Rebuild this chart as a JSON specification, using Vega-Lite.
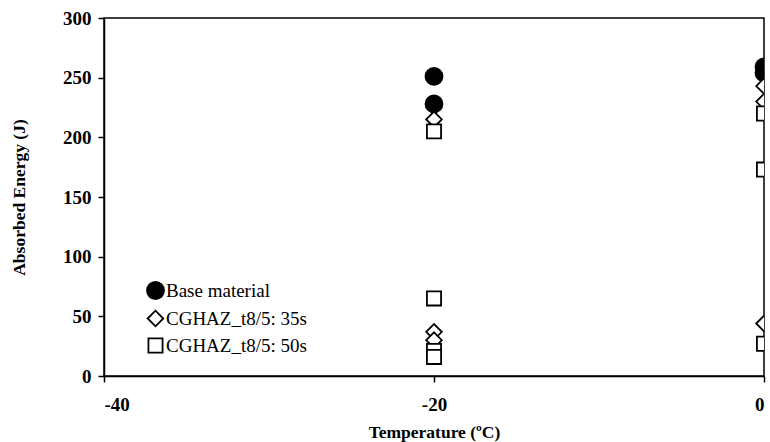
{
  "$schema": "https://vega.github.io/schema/vega-lite/v6.json",
  "width": 660,
  "height": 358,
  "autosize": "none",
  "padding": {"left": 104, "top": 18, "right": 6, "bottom": 66},
  "background": "white",
  "config": {
    "view": {"stroke": "black", "strokeWidth": 1.5},
    "font": "Liberation Serif",
    "axis": {
      "grid": false,
      "domainColor": "black",
      "domainWidth": 1.5,
      "tickColor": "black",
      "tickWidth": 1.5,
      "tickSize": 6,
      "labelFont": "Liberation Serif",
      "labelFontWeight": "bold",
      "labelFontSize": 19,
      "labelColor": "black",
      "titleFont": "Liberation Serif",
      "titleFontWeight": "bold",
      "titleFontSize": 17.5,
      "titleColor": "black"
    }
  },
  "data": {
    "values": [
      {"series": "Base material", "temp": -20, "energy": 251},
      {"series": "Base material", "temp": -20, "energy": 228},
      {"series": "Base material", "temp": 0, "energy": 259},
      {"series": "Base material", "temp": 0, "energy": 254},
      {"series": "CGHAZ_t8/5: 35s", "temp": -20, "energy": 215},
      {"series": "CGHAZ_t8/5: 35s", "temp": -20, "energy": 37},
      {"series": "CGHAZ_t8/5: 35s", "temp": -20, "energy": 30},
      {"series": "CGHAZ_t8/5: 35s", "temp": 0, "energy": 243},
      {"series": "CGHAZ_t8/5: 35s", "temp": 0, "energy": 230},
      {"series": "CGHAZ_t8/5: 35s", "temp": 0, "energy": 44},
      {"series": "CGHAZ_t8/5: 50s", "temp": -20, "energy": 205},
      {"series": "CGHAZ_t8/5: 50s", "temp": -20, "energy": 65},
      {"series": "CGHAZ_t8/5: 50s", "temp": -20, "energy": 21},
      {"series": "CGHAZ_t8/5: 50s", "temp": -20, "energy": 16},
      {"series": "CGHAZ_t8/5: 50s", "temp": 0, "energy": 220},
      {"series": "CGHAZ_t8/5: 50s", "temp": 0, "energy": 173},
      {"series": "CGHAZ_t8/5: 50s", "temp": 0, "energy": 27}
    ]
  },
  "mark": {"type": "point", "filled": true, "stroke": "black", "strokeWidth": 1.8, "opacity": 1, "clip": true},
  "encoding": {
    "x": {
      "field": "temp",
      "type": "quantitative",
      "title": "Temperature (ºC)",
      "scale": {"domain": [-40, 0], "nice": false, "zero": false},
      "axis": {"values": [-40, -20, 0], "labelExpr": "'' + datum.value", "labelPadding": 13, "titlePadding": 9}
    },
    "y": {
      "field": "energy",
      "type": "quantitative",
      "title": "Absorbed Energy (J)",
      "scale": {"domain": [0, 300], "nice": false},
      "axis": {"values": [0, 50, 100, 150, 200, 250, 300], "labelPadding": 7, "titlePadding": 34}
    },
    "shape": {
      "field": "series",
      "type": "nominal",
      "title": null,
      "scale": {"domain": ["Base material", "CGHAZ_t8/5: 35s", "CGHAZ_t8/5: 50s"], "range": ["circle", "diamond", "square"]},
      "legend": {
        "orient": "none",
        "legendX": 42,
        "legendY": 263,
        "labelFont": "Liberation Serif",
        "labelFontSize": 19,
        "labelColor": "black",
        "labelOffset": 1,
        "rowPadding": 4,
        "symbolStrokeColor": "black",
        "symbolStrokeWidth": 1.8,
        "symbolOpacity": 1
      }
    },
    "fill": {
      "field": "series",
      "type": "nominal",
      "title": null,
      "scale": {"domain": ["Base material", "CGHAZ_t8/5: 35s", "CGHAZ_t8/5: 50s"], "range": ["black", "white", "white"]}
    },
    "size": {
      "field": "series",
      "type": "nominal",
      "title": null,
      "scale": {"domain": ["Base material", "CGHAZ_t8/5: 35s", "CGHAZ_t8/5: 50s"], "range": [289, 200, 144]}
    },
    "order": {"field": "series", "type": "nominal"}
  }
}
